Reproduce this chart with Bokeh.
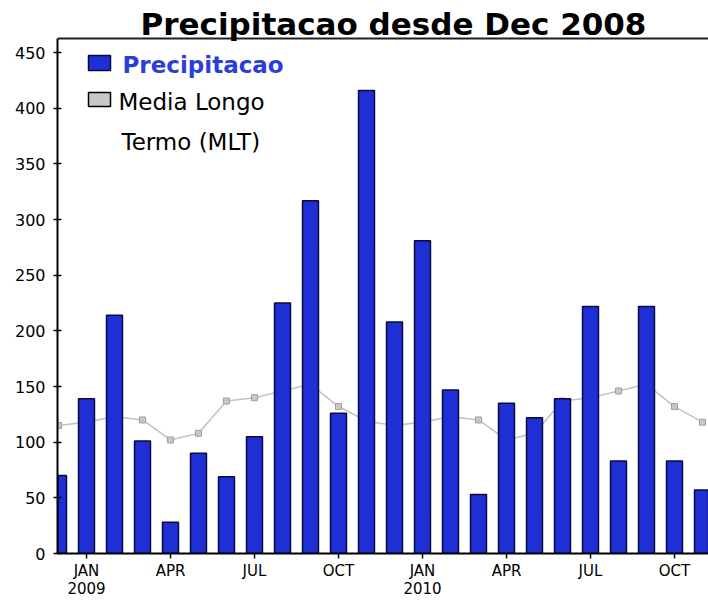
from bokeh.plotting import figure
from bokeh.models import (ColumnDataSource, Range1d, FixedTicker, Span, Label,
                          BoxAnnotation)
from bokeh.embed import file_html
from bokeh.resources import INLINE

# ---------------- data ----------------
months = ["2008-12", "2009-01", "2009-02", "2009-03", "2009-04", "2009-05",
          "2009-06", "2009-07", "2009-08", "2009-09", "2009-10", "2009-11",
          "2009-12", "2010-01", "2010-02", "2010-03", "2010-04", "2010-05",
          "2010-06", "2010-07", "2010-08", "2010-09", "2010-10", "2010-11"]
precip = [70, 139, 214, 101, 28, 90, 69, 105, 225, 317, 126, 416,
          208, 281, 147, 53, 135, 122, 139, 222, 83, 222, 83, 57]
mlt = [115, 118, 123, 120, 102, 108, 137, 140, 146, 152, 132, 119,
       115, 118, 123, 120, 102, 108, 137, 140, 146, 152, 132, 118]
tick_idx = [1, 4, 7, 10, 13, 16, 19, 22]
tick_labels = ["JAN", "APR", "JUL", "OCT", "JAN", "APR", "JUL", "OCT"]
year_idx = [1, 13]
year_labels = ["2009", "2010"]
y_ticks = [0, 50, 100, 150, 200, 250, 300, 350, 400, 450]
title_text = "Precipitacao desde Dec 2008"
legend_precip = "Precipitacao"
legend_mlt = ["Media Longo", "Termo (MLT)"]

# ---------------- geometry (canvas pixels -> data) ----------------
W, H = 708, 600
X0_PX, DX_PX = 58.0, 28.0      # canvas x of index 0, px per month
Y0_PX, DY_PX = 553.0, 1.113    # canvas y of value 0, px per unit

def px_x(px):
    return (px - X0_PX) / DX_PX

def px_y(py):
    return (Y0_PX - py) / DY_PX

src = ColumnDataSource(dict(x=list(range(len(months))), month=months,
                            precip=precip, mlt=mlt))

p = figure(width=W, height=H, output_backend="svg", toolbar_location=None,
           x_range=Range1d(px_x(57), px_x(W)),
           y_range=Range1d(0, px_y(0)),
           min_border_left=57, min_border_right=0, min_border_top=0,
           min_border_bottom=H - 553)
p.outline_line_color = None
p.background_fill_color = "white"
p.border_fill_color = "white"
p.xgrid.visible = False
p.ygrid.visible = False

FONT = "DejaVu Sans"
BLUE = "#1f2fd6"

# MLT line (behind bars)
p.line("x", "mlt", source=src, line_color="#c4c4c4", line_width=1.6)
p.scatter("x", "mlt", source=src, marker="square", size=6,
          fill_color="#c8c8c8", line_color="#a0a0a0", line_width=1)

# bars
p.vbar(x="x", top="precip", width=0.57, source=src, fill_color=BLUE,
       line_color="#0a0a3c", line_width=1.5)

# top frame line
top_val = px_y(38)
p.add_layout(Span(location=top_val, dimension="width", line_color="#202020",
                  line_width=2))

# axes
ya = p.yaxis[0]
ya.ticker = FixedTicker(ticks=y_ticks)
ya.bounds = (0, top_val)
ya.axis_line_color = "black"
ya.axis_line_width = 2
ya.major_tick_in = 4
ya.major_tick_out = 4
ya.major_tick_line_width = 1.5
ya.minor_tick_line_color = None
ya.major_label_text_font = FONT
ya.major_label_text_font_size = "16px"
ya.major_label_text_color = "black"
ya.major_label_standoff = 8

overrides = {i: t for i, t in zip(tick_idx, tick_labels)}
for i, yr in zip(year_idx, year_labels):
    overrides[i] = overrides[i] + "\n" + yr

xa = p.xaxis[0]
xa.ticker = FixedTicker(ticks=tick_idx)
xa.major_label_overrides = overrides
xa.axis_line_color = "black"
xa.axis_line_width = 2
xa.major_tick_in = 0
xa.major_tick_out = 5
xa.major_tick_line_width = 1.5
xa.minor_tick_line_color = None
xa.major_label_text_font = FONT
xa.major_label_text_font_size = "15px"
xa.major_label_text_color = "black"
xa.major_label_text_line_height = 1.0
xa.major_label_standoff = 3

# title
p.add_layout(Label(x=px_x(393), y=px_y(23), text=title_text,
                   text_align="center", text_baseline="alphabetic",
                   text_font=FONT, text_font_size="31px",
                   text_font_style="bold", text_color="black"))

# legend (manual)
p.add_layout(BoxAnnotation(left=px_x(88), right=px_x(110), top=px_y(55),
                           bottom=px_y(70), fill_color=BLUE, fill_alpha=1,
                           line_color="#0a0a3c", line_alpha=1,
                           line_width=1.5))
p.add_layout(Label(x=px_x(122), y=px_y(64), text=legend_precip,
                   text_baseline="alphabetic", text_font=FONT,
                   text_font_size="23px", text_font_style="bold",
                   text_color="#2b3fd6"))
p.add_layout(BoxAnnotation(left=px_x(88), right=px_x(110), top=px_y(92),
                           bottom=px_y(106), fill_color="#c8c8c8",
                           fill_alpha=1, line_color="black", line_alpha=1,
                           line_width=1.5))
p.add_layout(Label(x=px_x(118), y=px_y(101), text=legend_mlt[0],
                   text_baseline="alphabetic", text_font=FONT,
                   text_font_size="23px", text_color="black"))
p.add_layout(Label(x=px_x(121), y=px_y(141), text=legend_mlt[1],
                   text_baseline="alphabetic", text_font=FONT,
                   text_font_size="23px", text_color="black"))

open("out.html", "w").write(file_html(p, INLINE))
